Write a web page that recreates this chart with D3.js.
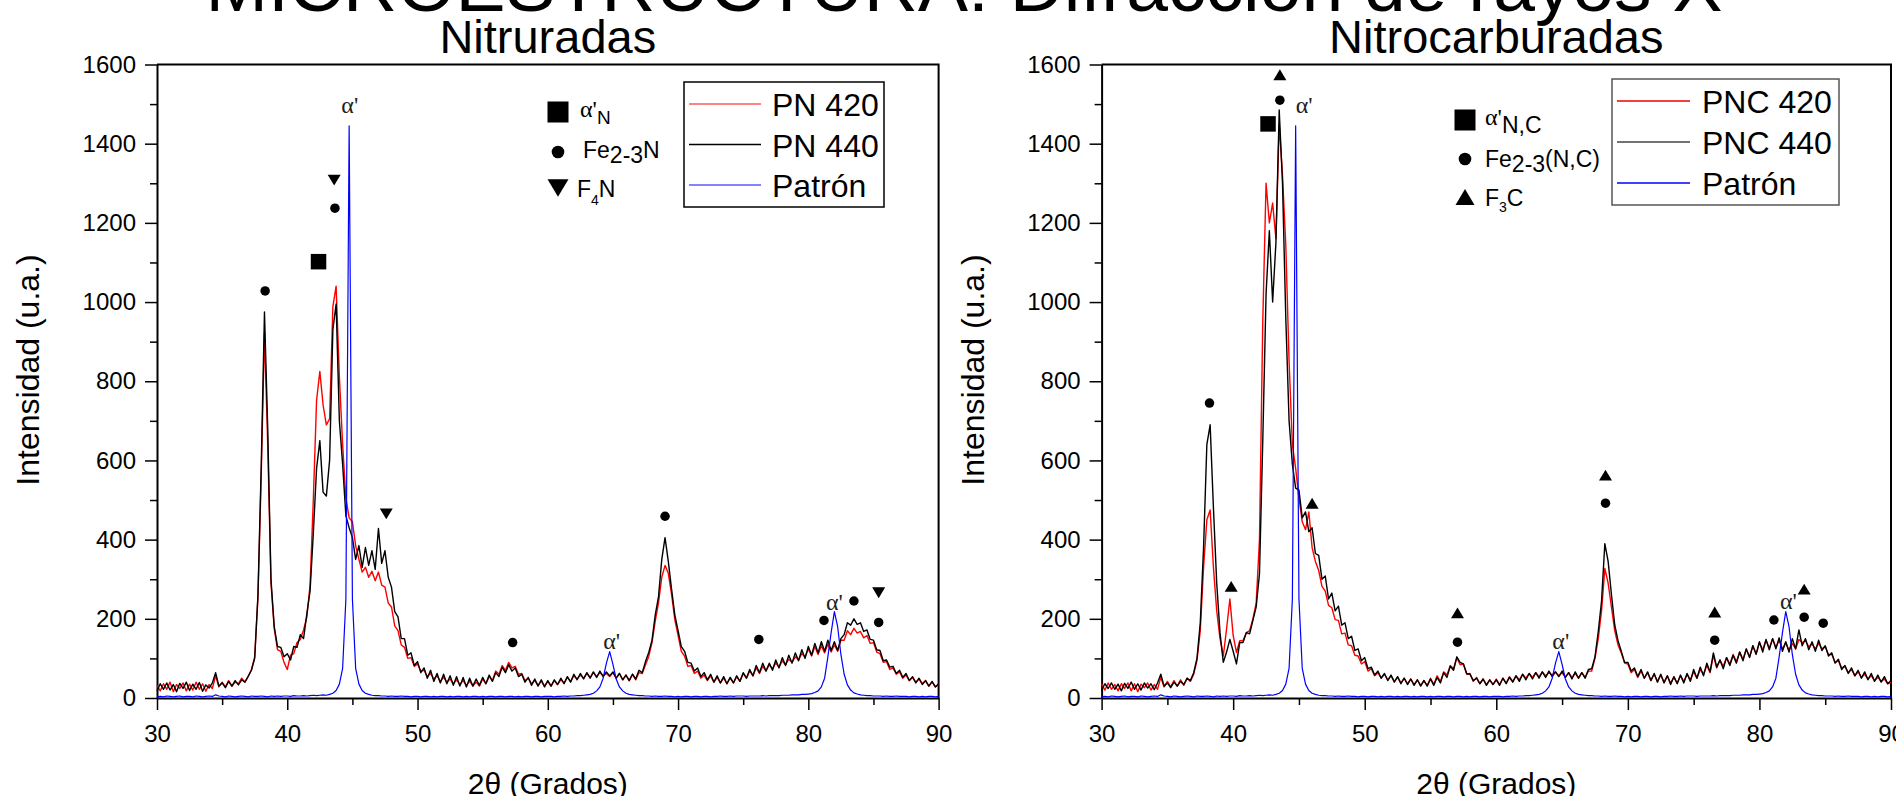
<!DOCTYPE html>
<html>
<head>
<meta charset="utf-8">
<script src="https://cdn.jsdelivr.net/npm/d3@7"></script>
<style>
  body { margin: 0; background: #fff; }
  svg { display: block; font-family: "Liberation Sans", Arial, sans-serif; }
</style>
</head>
<body>
<div id="graf"></div>
<script>
// Datos: intensidad cada 0.25 grados (2θ de 30 a 90)
const angulos = d3.range(241).map(i => 30 + i * 0.25)

const pn420 = [
  32,18,36,22,40,16,34,24,38,18,35,20,40,22,36,17,34,24,56,28,
  40,28,44,30,40,36,50,40,54,72,104,255,560,920,640,290,175,122,118,90,
  72,108,112,140,148,172,204,285,500,752,825,740,690,705,988,1040,811,640,505,455,
  445,385,350,318,330,305,320,296,318,285,280,240,230,182,170,134,128,100,102,80,
  86,68,70,54,62,48,56,42,52,40,48,36,46,34,44,32,42,31,40,30,
  48,36,54,44,68,60,82,70,90,76,80,60,62,44,50,36,44,32,42,30,
  42,30,44,34,46,38,52,42,56,48,58,50,62,52,64,54,64,56,62,54,
  64,50,62,46,58,44,60,46,64,62,84,105,140,195,240,305,335,315,262,198,
  158,118,106,80,82,62,68,50,58,44,56,40,52,38,50,36,50,38,54,42,
  62,50,68,56,76,62,80,68,84,74,88,78,94,84,98,90,104,96,112,104,
  124,106,130,110,132,114,136,116,134,118,146,146,170,160,176,164,168,152,158,138,
  140,116,112,90,92,72,76,60,66,50,58,44,52,40,48,36,44,30,40,28,
  34
]
const pn440 = [
  18,36,22,38,20,34,16,37,24,40,19,35,22,39,17,33,25,38,64,30,
  38,26,42,30,44,33,46,40,55,70,100,260,584,975,680,300,180,130,128,104,
  112,96,130,128,160,150,212,270,416,580,650,520,510,600,930,995,700,590,460,430,
  405,350,385,330,380,335,372,325,428,340,372,305,280,218,205,150,150,108,114,82,
  92,64,76,50,70,42,62,38,60,36,56,32,54,30,52,28,50,30,48,32,
  52,36,58,42,64,54,78,64,84,68,76,54,60,40,52,32,48,30,46,28,
  44,30,46,34,50,36,54,40,60,46,62,48,64,50,66,52,68,54,66,56,
  66,50,62,46,58,44,60,48,70,64,92,115,146,210,256,350,405,345,275,210,
  170,130,118,90,88,68,76,54,64,46,60,40,56,38,54,36,52,38,56,42,
  64,50,72,56,82,64,88,68,88,70,96,76,102,82,108,88,114,94,122,100,
  130,108,138,114,142,118,146,120,142,120,150,160,190,184,200,186,190,168,172,148,
  146,122,120,94,96,78,80,62,70,52,62,44,54,38,50,34,44,30,42,28,
  36
]
const pnc420 = [
  36,20,38,22,34,18,36,24,38,18,36,16,35,26,38,20,34,22,52,28,
  42,28,44,30,46,32,50,42,60,95,170,330,450,475,330,220,150,106,175,250,
  158,115,145,145,165,170,200,240,400,950,1300,1200,1250,1160,1450,1320,1144,850,640,580,
  505,445,425,470,380,345,322,282,270,234,228,198,196,162,164,134,132,108,106,86,
  92,68,74,56,64,50,60,46,56,42,52,38,50,36,48,34,46,32,44,32,
  50,34,56,42,66,58,82,74,102,84,86,60,62,42,52,36,48,34,46,34,
  48,34,50,38,54,42,56,46,60,50,62,52,64,54,66,56,64,58,66,56,
  64,52,64,52,62,50,64,52,68,68,100,150,220,327,290,230,170,134,114,88,
  86,64,72,52,68,50,64,44,60,42,58,40,56,38,52,38,56,42,60,46,
  66,50,72,60,82,64,108,76,96,80,102,86,110,92,116,98,124,104,132,112,
  140,122,146,126,150,128,146,124,140,120,138,124,148,140,144,130,136,124,138,124,
  130,110,110,90,94,76,80,64,72,56,66,52,60,48,56,44,52,42,48,36,
  40
]
const pnc440 = [
  20,36,24,38,22,35,18,37,24,40,22,36,20,38,25,36,21,38,60,30,
  38,26,40,30,42,34,50,44,64,100,190,380,640,690,480,290,165,90,116,148,
  118,86,140,140,165,162,196,230,314,650,1020,1180,1000,1150,1485,1300,960,700,590,530,
  525,455,470,420,430,365,360,300,308,250,265,220,232,184,190,150,156,120,124,94,
  102,74,78,58,68,50,62,44,58,40,54,36,50,34,48,32,46,30,44,30,
  48,32,52,38,64,52,80,70,104,90,86,62,60,44,50,36,48,32,46,34,
  46,32,50,36,52,40,56,42,60,46,62,48,64,50,66,52,68,54,66,54,
  68,52,64,48,66,50,64,50,72,74,104,168,245,390,345,262,185,145,118,90,
  90,68,76,54,72,50,66,44,62,40,60,38,56,34,54,36,58,38,62,42,
  72,50,78,56,88,66,114,78,96,74,102,82,108,88,116,94,124,102,132,110,
  142,116,148,122,150,124,152,118,142,116,150,124,172,132,150,122,142,118,146,120,
  132,106,114,88,98,72,82,62,76,56,70,50,66,46,62,42,58,40,54,36,
  44
]
const patron = [
  3,4,3,5,4,3,4,5,3,4,4,3,5,4,3,4,5,4,8,5,
  4,3,5,4,3,4,5,4,3,5,4,4,5,4,3,5,4,5,4,5,
  5,4,6,5,5,6,5,6,7,6,7,8,7,9,12,19,35,75,250,1445,
  250,75,35,19,12,9,7,6,6,5,5,4,5,4,4,5,4,4,3,4,
  4,3,4,4,3,4,3,4,4,3,4,3,4,4,3,4,3,4,4,3,
  4,3,4,4,3,4,4,3,4,4,3,4,3,4,4,3,4,4,3,4,
  4,4,3,4,4,5,4,5,5,6,6,7,8,9,12,18,28,50,88,117,
  85,48,28,18,12,9,8,7,6,6,5,5,4,5,4,4,5,4,4,3,
  4,3,4,4,3,4,4,3,4,4,3,4,4,5,4,4,5,4,5,5,
  5,4,5,5,5,5,6,5,6,6,6,6,7,7,7,8,8,8,9,9,
  10,11,14,18,28,50,104,165,218,180,110,60,33,20,13,10,8,7,6,6,
  5,5,5,4,5,4,4,5,4,4,4,3,4,4,3,4,3,4,4,3,
  4
]

// Marcas de fases [tipo, 2θ, intensidad]
const marcasNitruradas = [
  ["circulo", 38.3, 1028], ["cuadrado", 42.4, 1102], ["circulo", 43.66, 1237],
  ["abajo", 43.6, 1308], ["abajo", 47.6, 465], ["circulo", 57.3, 140],
  ["circulo", 69.0, 459], ["circulo", 76.2, 148], ["circulo", 81.2, 196],
  ["circulo", 83.5, 245], ["abajo", 85.4, 266], ["circulo", 85.4, 191]
]
const marcasNitrocarburadas = [
  ["arriba", 43.55, 1574], ["circulo", 43.55, 1510], ["cuadrado", 42.65, 1450],
  ["circulo", 38.2, 745], ["arriba", 39.85, 282], ["arriba", 46.0, 492],
  ["arriba", 57.05, 215], ["circulo", 57.05, 141], ["arriba", 68.3, 563],
  ["circulo", 68.3, 492], ["arriba", 76.6, 217], ["circulo", 76.6, 146],
  ["circulo", 81.1, 197], ["arriba", 83.4, 275], ["circulo", 83.4, 204],
  ["circulo", 84.85, 189]
]
// etiquetas α' [2θ, intensidad de la línea base del texto]
const alfaNitruradas = [[44.8, 1477], [64.9, 125], [82.0, 222]]
const alfaNitrocarburadas = [[45.4, 1477], [64.9, 125], [82.2, 224]]

const ticksY = d3.range(0, 1601, 200)
const ticksX = d3.range(30, 91, 10)

const W = 1896, H = 796
const svg = d3.select("#graf").append("svg").attr("width", W).attr("height", H)
svg.append("rect").attr("width", W).attr("height", H).attr("fill", "#fff")

svg.append("text")
  .attr("x", 964).attr("y", 11)
  .attr("text-anchor", "middle")
  .attr("font-size", 75)
  .text("MICROESTRUCTURA: Difracción de rayos X")

const y = d3.scaleLinear().domain([0, 1600]).range([698, 64.5])

const formas = {
  cuadrado: s => `M${-s / 2},${-s / 2}h${s}v${s}h${-s}Z`,
  abajo: s => `M${-s / 2},${-s * 0.42}L${s / 2},${-s * 0.42}L0,${s * 0.42}Z`,
  arriba: s => `M${-s / 2},${s * 0.42}L${s / 2},${s * 0.42}L0,${-s * 0.42}Z`
}
const simbolo = (g, tipo, cx, cy, s) => {
  if (tipo === "circulo")
    g.append("circle").attr("cx", cx).attr("cy", cy).attr("r", s / 2).attr("fill", "#000")
  else
    g.append("path").attr("d", formas[tipo](s)).attr("transform", `translate(${cx},${cy})`).attr("fill", "#000")
}

const render = (p) => {
  const x = d3.scaleLinear().domain([30, 90]).range([p.left, p.right])
  const g = svg.append("g")

  g.append("text")
    .attr("x", (p.left + p.right) / 2).attr("y", 53)
    .attr("text-anchor", "middle").attr("font-size", 47)
    .text(p.titulo)

  // ejes
  g.append("g").attr("transform", `translate(${p.left},0)`)
    .call(d3.axisLeft(y).tickValues(ticksY).tickFormat(d3.format("d")).tickSize(12).tickPadding(9).tickSizeOuter(0))
  const ejeYm = g.append("g").attr("transform", `translate(${p.left},0)`)
    .call(d3.axisLeft(y).tickValues(d3.range(100, 1600, 200)).tickSize(7).tickFormat(""))
  g.append("g").attr("transform", `translate(0,${y(0)})`)
    .call(d3.axisBottom(x).tickValues(ticksX).tickFormat(d3.format("d")).tickSize(12).tickPadding(15).tickSizeOuter(0))
  const ejeXm = g.append("g").attr("transform", `translate(0,${y(0)})`)
    .call(d3.axisBottom(x).tickValues(d3.range(35, 90, 10)).tickSize(7).tickFormat(""))
  ejeYm.select(".domain").remove()
  ejeXm.select(".domain").remove()
  g.selectAll(".domain").attr("stroke-width", 2)
  g.selectAll(".tick line").attr("stroke-width", 1.5)
  g.selectAll(".tick text").attr("font-size", 24).attr("font-family", "Liberation Sans, Arial, sans-serif").attr("fill", "#000")

  g.append("path")
    .attr("d", `M${p.left},${y(1600)}H${p.right}V${y(0)}`)
    .attr("fill", "none").attr("stroke", "#000").attr("stroke-width", 2)

  g.append("text")
    .attr("transform", `translate(${p.left - 118},370) rotate(-90)`)
    .attr("text-anchor", "middle").attr("font-size", 32)
    .text("Intensidad (u.a.)")
  g.append("text")
    .attr("x", (p.left + p.right) / 2).attr("y", 794)
    .attr("text-anchor", "middle").attr("font-size", 30)
    .text("2θ (Grados)")

  // curvas
  const linea = d3.line().x((d, i) => x(angulos[i])).y(d => y(d))
  p.series.forEach(s => {
    g.append("path").datum(s.valores)
      .attr("d", linea)
      .attr("fill", "none").attr("stroke", s.color)
      .attr("stroke-width", s.ancho).attr("stroke-linejoin", "round")
  })

  // marcas de fases
  p.marcas.forEach(([tipo, a, v]) => {
    simbolo(g, tipo, x(a), y(v), tipo === "circulo" ? 9.5 : tipo === "cuadrado" ? 15.5 : 13)
  })
  p.alfas.forEach(([a, v]) => {
    g.append("text").attr("x", x(a)).attr("y", y(v))
      .attr("text-anchor", "middle").attr("font-family", "Liberation Serif, serif")
      .attr("font-size", 24).attr("fill", "#222").text("α'")
  })

  // leyenda de curvas
  const L = p.leyenda
  g.append("rect").attr("x", L.x).attr("y", L.y).attr("width", L.w).attr("height", L.h)
    .attr("fill", "#fff").attr("stroke", L.borde).attr("stroke-width", 1.5)
  p.series.forEach((s, i) => {
    const ly = L.y + L.primera + i * L.paso
    g.append("line").attr("x1", L.x + 5).attr("x2", L.x + 5 + L.largo).attr("y1", ly).attr("y2", ly)
      .attr("stroke", s.colorLeyenda).attr("stroke-width", 1.5)
    g.append("text").attr("x", L.x + L.texto).attr("y", ly + 12)
      .attr("font-size", 32).text(s.nombre)
  })

  // leyenda de fases
  const F = p.fases
  simbolo(g, "cuadrado", F.x, F.y[0], 21)
  simbolo(g, "circulo", F.x, F.y[1], 12.6)
  simbolo(g, F.triangulo, F.x, F.y[2], F.triangulo === "abajo" ? 21 : 19)
  p.textoFases(g, F)
}

const sub = (t, txt, dy, size, fam) => {
  const s = t.append("tspan").attr("dy", dy).text(txt)
  if (size) s.attr("font-size", size)
  if (fam) s.attr("font-family", fam)
  return s
}

render({
  titulo: "Nitruradas", left: 157, right: 938.6,
  series: [
    { nombre: "PN 420", valores: pn420, color: "#ff0000", colorLeyenda: "#ff5a5a", ancho: 1.4 },
    { nombre: "PN 440", valores: pn440, color: "#000", colorLeyenda: "#000", ancho: 1.4 },
    { nombre: "Patrón", valores: patron, color: "#0000ff", colorLeyenda: "#5a5aff", ancho: 1.2 }
  ],
  marcas: marcasNitruradas, alfas: alfaNitruradas,
  leyenda: { x: 684, y: 82, w: 200, h: 125, primera: 22, paso: 40.5, largo: 72, texto: 88, borde: "#000" },
  fases: { x: 558, y: [112, 152, 188], triangulo: "abajo" },
  textoFases: (g, F) => {
    const t1 = g.append("text").attr("x", 580).attr("y", 117).attr("font-size", 24)
    sub(t1, "α'", 0, null, "Liberation Serif, serif")
    sub(t1, "N", 7, 19)
    const t2 = g.append("text").attr("x", 583).attr("y", 158).attr("font-size", 23)
    sub(t2, "Fe", 0); sub(t2, "2-3", 5); sub(t2, "N", -5)
    const t3 = g.append("text").attr("x", 577).attr("y", 197).attr("font-size", 23)
    sub(t3, "F", 0); sub(t3, "4", 8, 14); sub(t3, "N", -8, 23)
  }
})

render({
  titulo: "Nitrocarburadas", left: 1101.6, right: 1891,
  series: [
    { nombre: "PNC 420", valores: pnc420, color: "#ff0000", colorLeyenda: "#ee0000", ancho: 1.4 },
    { nombre: "PNC 440", valores: pnc440, color: "#000", colorLeyenda: "#444", ancho: 1.4 },
    { nombre: "Patrón", valores: patron, color: "#0000ff", colorLeyenda: "#0000ff", ancho: 1.2 }
  ],
  marcas: marcasNitrocarburadas, alfas: alfaNitrocarburadas,
  leyenda: { x: 1612, y: 79, w: 227, h: 126, primera: 22, paso: 41, largo: 73, texto: 90, borde: "#555" },
  fases: { x: 1465, y: [120, 159, 197], triangulo: "arriba" },
  textoFases: (g, F) => {
    const t1 = g.append("text").attr("x", 1485).attr("y", 125).attr("font-size", 24)
    sub(t1, "α'", 0, null, "Liberation Serif, serif")
    sub(t1, "N,C", 8, 23)
    const t2 = g.append("text").attr("x", 1485).attr("y", 167).attr("font-size", 23)
    sub(t2, "Fe", 0); sub(t2, "2-3", 5); sub(t2, "(N,C)", -5)
    const t3 = g.append("text").attr("x", 1485).attr("y", 206).attr("font-size", 23)
    sub(t3, "F", 0); sub(t3, "3", 6, 14); sub(t3, "C", -6, 23)
  }
})
</script>
</body>
</html>
